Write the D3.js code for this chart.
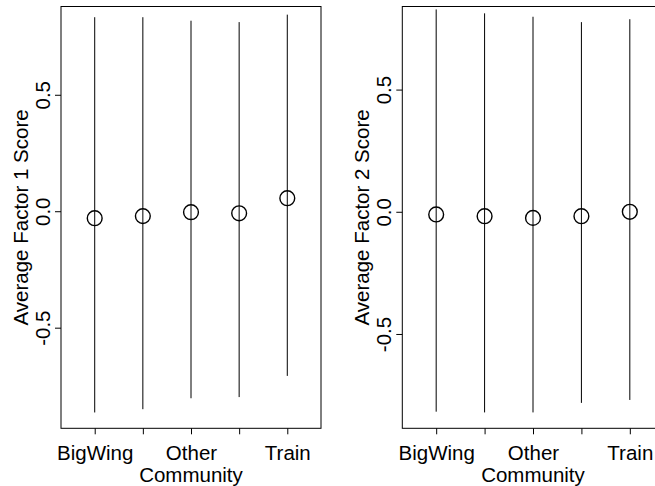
<!DOCTYPE html>
<html>
<head>
<meta charset="utf-8">
<script src="https://cdn.jsdelivr.net/npm/d3@7"></script>
<style>
  html, body { margin: 0; padding: 0; background: #fff; }
  svg { display: block; }
  text { font-family: "Liberation Sans", Arial, Helvetica, sans-serif; fill: #000; }
</style>
</head>
<body>
<svg id="chart" width="655" height="486"></svg>
<script>
// ---- data ----
const categories = ["BigWing", "Cat2", "Other", "Cat4", "Train"];
const tickLabels = ["BigWing", "", "Other", "", "Train"];
const xTitle = "Community";

const f1Mean  = [-0.030, -0.021, -0.004, -0.009, 0.056];
const f1Upper = [0.833, 0.833, 0.818, 0.812, 0.844];
const f1Lower = [-0.864, -0.850, -0.803, -0.798, -0.707];

const f2Mean  = [-0.011, -0.018, -0.025, -0.018, 0.000];
const f2Upper = [0.828, 0.812, 0.798, 0.776, 0.788];
const f2Lower = [-0.818, -0.821, -0.821, -0.782, -0.770];

const yTicks = [-0.5, 0.0, 0.5];
const yTickLabels = ["-0.5", "0.0", "0.5"];

// ---- drawing ----
const svg = d3.select("#chart");
const FS = 20.5;

function panel(opts) {
  const { left, right, top, bottom, yDomain, mean, upper, lower, yTitle } = opts;
  const g = svg.append("g");
  const x = d3.scaleLinear().domain([0.3, 5.7]).range([left, right]);
  const y = d3.scaleLinear().domain(yDomain).range([bottom, top]);
  const idx = categories.map((_, i) => i + 1);

  // vertical range lines
  g.selectAll("line.rng").data(idx).enter().append("line")
    .attr("x1", d => x(d)).attr("x2", d => x(d))
    .attr("y1", d => y(upper[d - 1])).attr("y2", d => y(lower[d - 1]))
    .attr("stroke", "#000").attr("stroke-width", 1);

  // mean points (open circles)
  g.selectAll("circle.pt").data(idx).enter().append("circle")
    .attr("cx", d => x(d)).attr("cy", d => y(mean[d - 1]))
    .attr("r", 7.4).attr("fill", "none")
    .attr("stroke", "#000").attr("stroke-width", 1.4);

  // x axis
  const xAxis = d3.axisBottom(x).tickValues(idx)
    .tickFormat(d => tickLabels[d - 1]).tickSize(6).tickPadding(0);
  const ax = g.append("g").attr("transform", `translate(0,${bottom})`).call(xAxis);
  ax.select(".domain").remove();
  ax.selectAll("line").attr("stroke", "#000");
  ax.selectAll("text").attr("font-size", FS).attr("dy", null)
    .attr("y", 31.5).attr("fill", "#000")
    .style("font-family", '"Liberation Sans", Arial, sans-serif');

  // y axis
  const yAxis = d3.axisLeft(y).tickValues(yTicks)
    .tickFormat((d, i) => yTickLabels[i]).tickSize(6).tickPadding(0);
  const ay = g.append("g").attr("transform", `translate(${left},0)`).call(yAxis);
  ay.select(".domain").remove();
  ay.selectAll("line").attr("stroke", "#000");
  ay.selectAll("text")
    .attr("x", null).attr("dy", null)
    .attr("text-anchor", "middle")
    .attr("font-size", FS).attr("fill", "#000")
    .style("font-family", '"Liberation Sans", Arial, sans-serif')
    .attr("transform", "translate(-11,0) rotate(-90)");

  // box
  g.append("rect").attr("x", left).attr("y", top)
    .attr("width", right - left).attr("height", bottom - top)
    .attr("fill", "none").attr("stroke", "#000").attr("stroke-width", 1);

  // titles
  g.append("text").attr("x", (left + right) / 2).attr("y", 481.5)
    .attr("text-anchor", "middle").attr("font-size", FS).text(xTitle);
  g.append("text")
    .attr("transform", `translate(${left - 33},${(top + bottom) / 2}) rotate(-90)`)
    .attr("text-anchor", "middle").attr("font-size", FS).text(yTitle);
}

panel({ left: 61, right: 321, top: 6.5, bottom: 428.3,
        yDomain: [-0.932, 0.879],
        mean: f1Mean, upper: f1Upper, lower: f1Lower,
        yTitle: "Average Factor 1 Score" });

panel({ left: 402.3, right: 663.7, top: 6.5, bottom: 428.3,
        yDomain: [-0.886, 0.840],
        mean: f2Mean, upper: f2Upper, lower: f2Lower,
        yTitle: "Average Factor 2 Score" });
</script>
</body>
</html>
